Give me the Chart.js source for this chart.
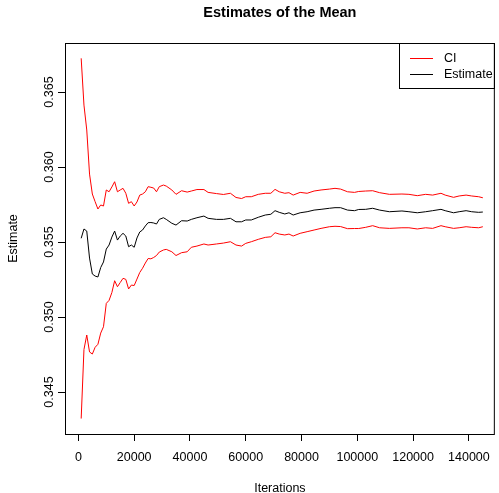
<!DOCTYPE html>
<html>
<head>
<meta charset="utf-8">
<title>Estimates of the Mean</title>
<script src="https://cdn.jsdelivr.net/npm/chart.js@4.4.0/dist/chart.umd.min.js"></script>
<style>
  html, body { margin: 0; padding: 0; background: #fff; }
  canvas { display: block; }
</style>
</head>
<body>
<canvas id="chart" width="499" height="493"></canvas>
<script>
// Iteration counts where the running estimates were sampled
const iterations = [
  1000, 2000, 3000, 4000, 5000, 6000, 7000, 8000, 9000, 10000,
  11000, 12000, 13000, 14000, 15000, 16000, 17000, 18000, 19000, 20000,
  21000, 22000, 23000, 24000, 25000, 26000, 27000, 28000, 29000, 30500,
  31500, 33500, 35000, 37000, 39000, 40500, 42500, 45000, 46500, 49500,
  52000, 54500, 56500, 58500, 60000, 62000, 64500, 67000, 69000, 70500,
  72000, 74000, 75500, 77000, 79500, 82000, 84500, 87000, 90000, 92000,
  94000, 96500, 99000, 100500, 103000, 105500, 108000, 111500, 116000, 118500,
  121500, 124500, 127000, 130000, 131500, 134500, 136500, 139000, 141000, 143500,
  145000
];

const estimate = [
  0.35525, 0.35587, 0.35573, 0.35393, 0.35287, 0.35273, 0.35267, 0.3533, 0.35367, 0.35453,
  0.3548, 0.35533, 0.35573, 0.35513, 0.3554, 0.35558, 0.3554, 0.35469, 0.3548, 0.35465,
  0.35527, 0.35567, 0.3558, 0.35607, 0.35629, 0.3563, 0.35627, 0.3562, 0.35651, 0.35662,
  0.35651, 0.35625, 0.35613, 0.35642, 0.3564, 0.35651, 0.35662, 0.35673, 0.35658, 0.35651,
  0.35651, 0.35658, 0.35635, 0.35635, 0.35647, 0.35647, 0.35665, 0.3568, 0.35685, 0.35709,
  0.35698, 0.35687, 0.35695, 0.3568, 0.35695, 0.35702, 0.35713, 0.35718, 0.35725, 0.35729,
  0.35729, 0.35713, 0.35709, 0.35717, 0.35718, 0.35725, 0.35713, 0.35702, 0.35707, 0.35702,
  0.35695, 0.35702, 0.35709, 0.35718, 0.35709, 0.35695, 0.35702, 0.35709, 0.35702, 0.35698,
  0.357
];

const ciUpper = [
  0.36725, 0.36413, 0.36247, 0.35953, 0.3582, 0.35769, 0.3572, 0.35747, 0.3574, 0.35847,
  0.35835, 0.35867, 0.35902, 0.35835, 0.35847, 0.35858, 0.35825, 0.35758, 0.35769, 0.3574,
  0.35767, 0.35813, 0.3582, 0.35835, 0.35869, 0.35865, 0.3586, 0.35835, 0.35869, 0.3588,
  0.35873, 0.35847, 0.35818, 0.35842, 0.35833, 0.3584, 0.3585, 0.3585, 0.35831, 0.35823,
  0.35817, 0.35825, 0.35797, 0.3579, 0.35802, 0.35802, 0.35818, 0.35825, 0.35825, 0.35851,
  0.35835, 0.35825, 0.35829, 0.35813, 0.35831, 0.35825, 0.3584, 0.35847, 0.35853, 0.35858,
  0.35853, 0.35835, 0.35831, 0.35837, 0.3584, 0.35842, 0.35829, 0.35818, 0.3582, 0.35818,
  0.35809, 0.35818, 0.35813, 0.35825, 0.35813, 0.35798, 0.35807, 0.35813, 0.35807, 0.35802,
  0.35795
];

const ciLower = [
  0.34323, 0.34783, 0.3488, 0.34767, 0.34753, 0.34798, 0.34818, 0.34893, 0.34935, 0.35091,
  0.35111, 0.35163, 0.35242, 0.35202, 0.3523, 0.35258, 0.35251, 0.35187, 0.35213, 0.3521,
  0.35253, 0.35297, 0.35325, 0.3536, 0.3539, 0.35388, 0.35397, 0.3541, 0.35433, 0.35447,
  0.35451, 0.35435, 0.3541, 0.35429, 0.35435, 0.35465, 0.35473, 0.35487, 0.3548, 0.35487,
  0.35493, 0.35502, 0.3548, 0.35473, 0.35491, 0.35502, 0.35518, 0.35531, 0.35535, 0.35562,
  0.35553, 0.35547, 0.35553, 0.3554, 0.35558, 0.35569, 0.3558, 0.35591, 0.35602, 0.35605,
  0.35603, 0.35589, 0.3559, 0.3559, 0.35598, 0.35609, 0.35595, 0.35591, 0.35595, 0.35595,
  0.35587, 0.35595, 0.35591, 0.35609, 0.35602, 0.35591, 0.35595, 0.35602, 0.35598, 0.35595,
  0.35602
];

const xTicks = [0, 20000, 40000, 60000, 80000, 100000, 120000, 140000];
const yTicks = [0.345, 0.350, 0.355, 0.360, 0.365];
const yTickLabels = ['0.345', '0.350', '0.355', '0.360', '0.365'];

const FONT = "'Liberation Sans', Arial, Helvetica, sans-serif";

function toPoints(values) {
  return values.map((v, i) => ({ x: iterations[i], y: v }));
}

// R-style extras: full box, rotated y labels, boxed legend
const rStyle = {
  id: 'rStyle',
  afterDraw(chart) {
    const { ctx, chartArea: a, scales } = chart;
    ctx.save();
    ctx.strokeStyle = '#000';
    ctx.lineWidth = 1;
    ctx.strokeRect(a.left + 0.5, a.top + 0.5, a.right - a.left - 1, a.bottom - a.top);

    // y tick labels, vertical like R's las=0
    ctx.fillStyle = '#000';
    ctx.font = '12.5px ' + FONT;
    ctx.textAlign = 'center';
    ctx.textBaseline = 'middle';
    yTicks.forEach((v, i) => {
      const y = scales.y.getPixelForValue(v);
      ctx.save();
      ctx.translate(50, y);
      ctx.rotate(-Math.PI / 2);
      ctx.fillText(yTickLabels[i], 0, 0);
      ctx.restore();
    });

    // legend in the top right corner
    const items = [
      { label: chart.data.datasets[0].label, color: chart.data.datasets[0].borderColor },
      { label: chart.data.datasets[1].label, color: chart.data.datasets[1].borderColor }
    ];
    const textW = Math.max(...items.map(it => ctx.measureText(it.label).width));
    const boxW = Math.round(45 + textW + 2);
    const boxH = 45;
    const bx = Math.round(a.right - boxW);
    const by = a.top;
    ctx.strokeRect(bx + 0.5, by + 0.5, boxW - 1, boxH);
    ctx.textAlign = 'left';
    items.forEach((it, i) => {
      const y = by + 15.5 + i * 16;
      ctx.strokeStyle = it.color;
      ctx.beginPath();
      ctx.moveTo(bx + 11, y);
      ctx.lineTo(bx + 34, y);
      ctx.stroke();
      ctx.fillStyle = '#000';
      ctx.fillText(it.label, bx + 45, y);
    });
    ctx.restore();
  }
};

new Chart(document.getElementById('chart'), {
  type: 'line',
  data: {
    datasets: [
      { label: 'CI', data: toPoints(ciUpper), borderColor: '#ff0000', borderWidth: 1, pointRadius: 0, tension: 0 },
      { label: 'Estimate', data: toPoints(estimate), borderColor: '#000000', borderWidth: 1, pointRadius: 0, tension: 0 },
      { label: 'CI lower', data: toPoints(ciLower), borderColor: '#ff0000', borderWidth: 1, pointRadius: 0, tension: 0 }
    ]
  },
  options: {
    responsive: false,
    animation: false,
    layout: { padding: { top: 0, left: 0, right: 3, bottom: 0 } },
    plugins: {
      legend: { display: false },
      tooltip: { enabled: false },
      title: {
        display: true,
        fullSize: false,
        text: 'Estimates of the Mean',
        color: '#000',
        font: { family: FONT, size: 14.5, weight: 'bold', lineHeight: 1.2 },
        padding: { top: 4, bottom: 21.6 }
      }
    },
    scales: {
      x: {
        type: 'linear',
        min: -4800,
        max: 149300,
        afterBuildTicks: scale => { scale.ticks = xTicks.map(v => ({ value: v })); },
        afterFit: scale => { scale.height = 59; },
        grid: { display: true, drawOnChartArea: false, drawTicks: true, tickLength: 7, color: '#000' },
        border: { display: false },
        ticks: {
          color: '#000',
          padding: 9,
          maxRotation: 0,
          autoSkip: false,
          font: { family: FONT, size: 12.5 },
          callback: v => String(v)
        },
        title: {
          display: true,
          text: 'Iterations',
          color: '#000',
          font: { family: FONT, size: 12.5 },
          padding: { top: 0, bottom: -3 }
        }
      },
      y: {
        type: 'linear',
        min: 0.3422,
        max: 0.36827,
        afterBuildTicks: scale => { scale.ticks = yTicks.map(v => ({ value: v })); },
        afterFit: scale => { scale.width = 65; },
        grid: { display: true, drawOnChartArea: false, drawTicks: true, tickLength: 7, color: '#000' },
        border: { display: false },
        ticks: { display: false },
        title: {
          display: true,
          text: 'Estimate',
          color: '#000',
          font: { family: FONT, size: 12.5 },
          padding: { top: 6.5, bottom: 0 }
        }
      }
    }
  },
  plugins: [rStyle]
});
</script>
</body>
</html>
